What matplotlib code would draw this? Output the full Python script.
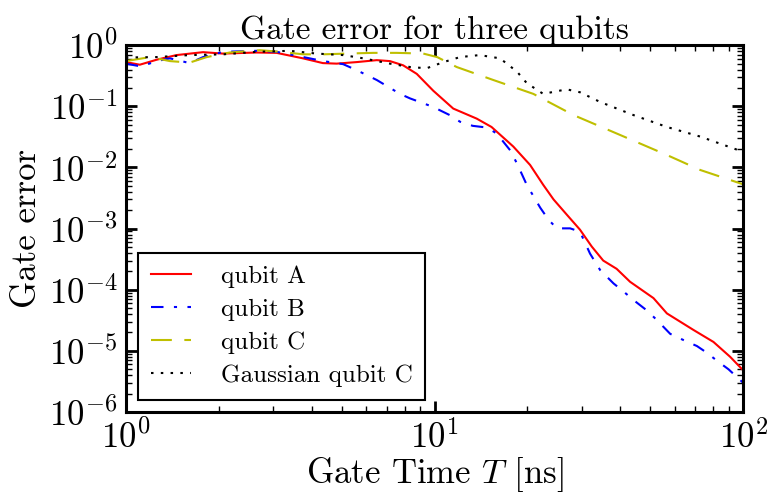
import numpy as np
import matplotlib
matplotlib.use("Agg")
import matplotlib.pyplot as plt
from matplotlib.ticker import LogLocator

plt.rcParams['font.family'] = 'serif'
plt.rcParams['font.serif'] = ['cmr10']
plt.rcParams['mathtext.fontset'] = 'cm'
plt.rcParams['axes.unicode_minus'] = False
plt.rcParams['axes.formatter.use_mathtext'] = True

# gate error vs gate time, one curve per qubit
T_a = [1.0, 1.11, 1.26, 1.46, 1.78, 2.06, 2.65, 3.08, 3.75, 4.35, 4.82, 5.6, 6.5, 7.17, 7.91,
       8.76, 9.91, 11.5, 13.7, 15.3, 18.0, 20.4, 22.5, 24.3, 26.8, 29.6, 32.3, 35.2, 38.9,
       43.0, 51.2, 56.6, 69.0, 80.1, 90.7, 100.0]
err_a = [0.53, 0.48, 0.58, 0.69, 0.77, 0.73, 0.76, 0.75, 0.61, 0.51, 0.50, 0.53, 0.57, 0.55, 0.47,
         0.34, 0.18, 0.092, 0.063, 0.046, 0.022, 0.011, 0.0052, 0.0030, 0.0017, 9.6e-4, 5.1e-4,
         3.0e-4, 2.2e-4, 1.35e-4, 7.3e-5, 4.1e-5, 2.2e-5, 1.4e-5, 8.0e-6, 4.8e-6]

T_b = [1.0, 1.12, 1.26, 1.39, 1.61, 1.78, 2.07, 2.65, 3.08, 3.76, 4.36, 5.06, 5.6, 6.5, 7.73,
       8.33, 9.89, 11.2, 12.1, 13.3, 14.8, 15.9, 17.6, 18.5, 19.9, 22.0, 23.4, 24.9, 27.5,
       29.6, 31.9, 34.4, 38.0, 40.9, 44.1, 48.7, 52.5, 58.0, 64.1, 70.8, 76.3, 82.2, 89.6, 100.0]
err_b = [0.50, 0.45, 0.55, 0.61, 0.51, 0.64, 0.78, 0.81, 0.78, 0.64, 0.55, 0.49, 0.39, 0.27, 0.16,
         0.135, 0.098, 0.072, 0.056, 0.048, 0.045, 0.036, 0.019, 0.0116, 0.0052, 0.0022, 0.0014,
         1.01e-3, 1.01e-3, 8.9e-4, 3.9e-4, 2.1e-4, 1.27e-4, 9.4e-5, 6.8e-5, 4.6e-5, 3.2e-5,
         1.9e-5, 1.5e-5, 1.2e-5, 9.3e-6, 6.9e-6, 5.0e-6, 3.0e-6]

T_c = [1.0, 1.20, 1.39, 1.61, 1.83, 2.17, 2.72, 3.16, 3.76, 4.36, 5.19, 6.33, 7.54, 9.2, 10.2,
       11.8, 15.5, 20.9, 28.2, 38.9, 56.6, 72.6, 100.0]
err_c = [0.55, 0.64, 0.55, 0.52, 0.64, 0.76, 0.83, 0.78, 0.71, 0.71, 0.73, 0.75, 0.75, 0.73, 0.64,
         0.44, 0.27, 0.16, 0.072, 0.036, 0.016, 0.0091, 0.0053]

T_g = [1.0, 1.26, 1.61, 2.07, 2.65, 3.40, 4.15, 5.06, 5.88, 7.17, 8.33, 9.43, 10.7, 12.1, 14.0,
       16.3, 18.5, 19.9, 22.5, 26.8, 29.6, 34.4, 44.1, 56.6, 72.6, 100.0]
err_g = [0.63, 0.64, 0.69, 0.71, 0.78, 0.81, 0.73, 0.69, 0.61, 0.50, 0.44, 0.42, 0.53, 0.64, 0.69,
         0.61, 0.37, 0.24, 0.16, 0.19, 0.17, 0.118, 0.072, 0.046, 0.032, 0.018]

fig = plt.figure(figsize=(7.67, 4.97), dpi=100)
ax = fig.add_axes([0.164, 0.171, 0.805, 0.738])

ax.loglog(T_a, err_a, 'r-', lw=1.5, label='qubit A')
ax.loglog(T_b, err_b, color='b', lw=1.5, dashes=(6, 5, 1.5, 5), label='qubit B')
ax.loglog(T_c, err_c, color=(0.75, 0.75, 0), lw=1.5, dashes=(10, 6), label='qubit C')
ax.loglog(T_g, err_g, color='k', lw=1.5, dashes=(1.2, 3.5), label='Gaussian qubit C')

ax.set_xlim(1, 100)
ax.set_ylim(1e-6, 1)
# every decade gets a labelled tick
ax.yaxis.set_major_locator(LogLocator(base=10, numticks=12))
ax.yaxis.set_minor_locator(LogLocator(base=10, subs=np.arange(2, 10), numticks=12))

ax.set_xlabel('Gate Time $T$ [ns]', fontsize=25, labelpad=0)
ax.set_ylabel('Gate error', fontsize=25, labelpad=4)
ax.set_title('Gate error for three qubits', fontsize=24, pad=4)

for s in ax.spines.values():
    s.set_linewidth(2.2)
ax.tick_params(which='both', direction='in', top=True, right=True)
ax.tick_params(which='major', length=8, width=2, labelsize=25, pad=6)
ax.tick_params(which='minor', length=4, width=1)

leg = ax.legend(loc='lower left', fontsize=18, handlelength=1.6, borderpad=0.5,
                labelspacing=0.42, handletextpad=1.2, fancybox=False, framealpha=1,
                borderaxespad=0.5)
leg.get_frame().set_edgecolor('k')
leg.get_frame().set_linewidth(1.5)

fig.savefig('out.png', dpi=100)
